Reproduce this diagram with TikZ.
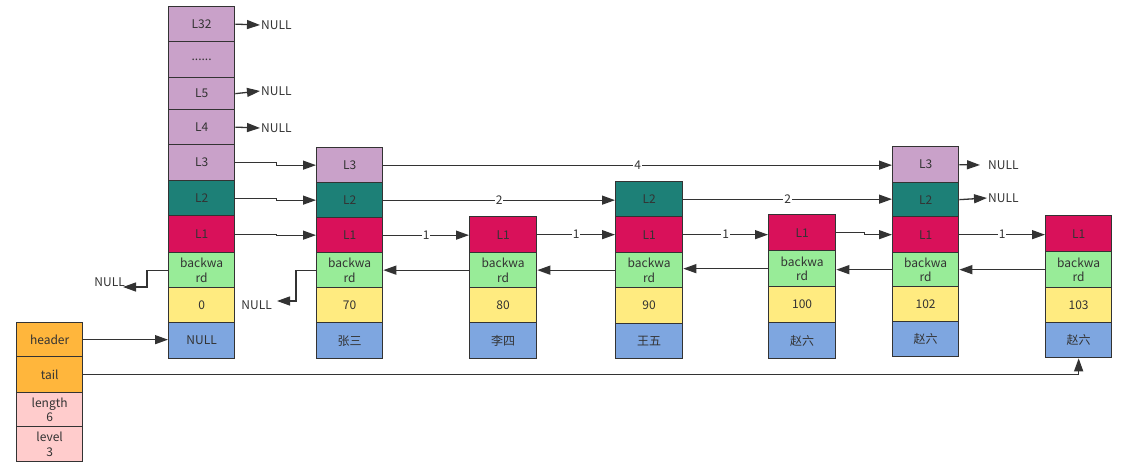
\documentclass[tikz,border=0pt]{standalone}
\usepackage{fontspec}
\setmainfont{Noto Sans CJK SC}
\usetikzlibrary{arrows.meta,calc}
\definecolor{ink}{HTML}{333333}
\definecolor{cpurple}{HTML}{C9A1C9}
\definecolor{cteal}{HTML}{1D8077}
\definecolor{cred}{HTML}{D9115A}
\definecolor{cgreen}{HTML}{98EC98}
\definecolor{cyellow}{HTML}{FFEB80}
\definecolor{cblue}{HTML}{7EA6E0}
\definecolor{corange}{HTML}{FFB63C}
\definecolor{cpink}{HTML}{FFCCCC}
\tikzset{
  cell/.style={draw=ink, line width=1.3pt, text=ink, font=\fontsize{12}{14.5}\selectfont,
    align=center, inner sep=0pt, anchor=north west},
  lthree/.style={cell, fill=cpurple},
  ltwo/.style={cell, fill=cteal},
  lone/.style={cell, fill=cred},
  bwcell/.style={cell, fill=cgreen},
  scorecell/.style={cell, fill=cyellow},
  objcell/.style={cell, fill=cblue},
  hdcell/.style={cell, fill=corange},
  infocell/.style={cell, fill=cpink},
  arr/.style={draw=ink, line width=1.3pt, -{Triangle[length=13pt,width=9pt]}},
  lbl/.style={fill=white, text=ink, font=\fontsize{12}{14}\selectfont, inner sep=1pt},
  nulltxt/.style={text=ink, font=\fontsize{12}{14}\selectfont, inner sep=1pt}
}
\begin{document}
\begin{tikzpicture}[x=1pt,y=-1pt]
\useasboundingbox (0,0) rectangle (1144,474);

% ---- column 1 (head node) ----
\node[lthree, minimum width=66pt, minimum height=35pt] (c1l32) at (168,6) {L32};
\node[lthree, minimum width=66pt, minimum height=36pt] (c1dots) at (168,41) {......};
\node[lthree, minimum width=66pt, minimum height=32pt] (c1l5) at (168,77) {L5};
\node[lthree, minimum width=66pt, minimum height=35pt] (c1l4) at (168,109) {L4};
\node[lthree, minimum width=66pt, minimum height=36pt] (c1l3) at (168,144) {L3};
\node[ltwo, minimum width=66pt, minimum height=35pt] (c1l2) at (168,180) {L2};
\node[lone, minimum width=66pt, minimum height=37pt] (c1l1) at (168,215) {L1};
\node[bwcell, minimum width=66pt, minimum height=35pt] (c1bw) at (168,252) {backwa\\rd};
\node[scorecell, minimum width=66pt, minimum height=35pt] (c1sc) at (168,287) {0};
\node[objcell, minimum width=66pt, minimum height=36pt] (c1ob) at (168,322) {NULL};

% ---- column 2 ----
\node[lthree, minimum width=66pt, minimum height=35pt] (c2l3) at (316,147) {L3};
\node[ltwo, minimum width=66pt, minimum height=35pt] (c2l2) at (316,182) {L2};
\node[lone, minimum width=66pt, minimum height=35pt] (c2l1) at (316,217) {L1};
\node[bwcell, minimum width=66pt, minimum height=35pt] (c2bw) at (316,252) {backwa\\rd};
\node[scorecell, minimum width=66pt, minimum height=35pt] (c2sc) at (316,287) {70};
\node[objcell, minimum width=66pt, minimum height=36pt] (c2ob) at (316,322) {张三};

% ---- column 3 ----
\node[lone, minimum width=67pt, minimum height=36pt] (c3l1) at (469,216) {L1};
\node[bwcell, minimum width=67pt, minimum height=35pt] (c3bw) at (469,252) {backwa\\rd};
\node[scorecell, minimum width=67pt, minimum height=35pt] (c3sc) at (469,287) {80};
\node[objcell, minimum width=67pt, minimum height=36pt] (c3ob) at (469,322) {李四};

% ---- column 4 ----
\node[ltwo, minimum width=67pt, minimum height=35pt] (c4l2) at (615,181) {L2};
\node[lone, minimum width=67pt, minimum height=36pt] (c4l1) at (615,216) {L1};
\node[bwcell, minimum width=67pt, minimum height=35pt] (c4bw) at (615,252) {backwa\\rd};
\node[scorecell, minimum width=67pt, minimum height=36pt] (c4sc) at (615,287) {90};
\node[objcell, minimum width=67pt, minimum height=35pt] (c4ob) at (615,323) {王五};

% ---- column 5 ----
\node[lone, minimum width=67pt, minimum height=36pt] (c5l1) at (768,214) {L1};
\node[bwcell, minimum width=67pt, minimum height=36pt] (c5bw) at (768,250) {backwa\\rd};
\node[scorecell, minimum width=67pt, minimum height=36pt] (c5sc) at (768,286) {100};
\node[objcell, minimum width=67pt, minimum height=36pt] (c5ob) at (768,322) {赵六};

% ---- column 6 ----
\node[lthree, minimum width=66pt, minimum height=36pt] (c6l3) at (892,146) {L3};
\node[ltwo, minimum width=66pt, minimum height=34pt] (c6l2) at (892,182) {L2};
\node[lone, minimum width=66pt, minimum height=36pt] (c6l1) at (892,216) {L1};
\node[bwcell, minimum width=66pt, minimum height=34pt] (c6bw) at (892,252) {backwa\\rd};
\node[scorecell, minimum width=66pt, minimum height=35pt] (c6sc) at (892,286) {102};
\node[objcell, minimum width=66pt, minimum height=35pt] (c6ob) at (892,321) {赵六};

% ---- column 7 ----
\node[lone, minimum width=66pt, minimum height=36pt] (c7l1) at (1045,215) {L1};
\node[bwcell, minimum width=66pt, minimum height=36pt] (c7bw) at (1045,251) {backwa\\rd};
\node[scorecell, minimum width=66pt, minimum height=35pt] (c7sc) at (1045,287) {103};
\node[objcell, minimum width=66pt, minimum height=35pt] (c7ob) at (1045,322) {赵六};

% ---- list header ----
\node[hdcell, minimum width=66pt, minimum height=34pt] (hd) at (16,322) {header};
\node[hdcell, minimum width=66pt, minimum height=36pt] (tl) at (16,356) {tail};
\node[infocell, minimum width=66pt, minimum height=34pt] (len) at (16,392) {length\\6};
\node[infocell, minimum width=66pt, minimum height=35pt] (lvl) at (16,426) {level\\3};

% ---- NULL labels ----
\node[nulltxt, anchor=west] (n32) at (260,25) {NULL};
\node[nulltxt, anchor=west] (n5) at (260,91) {NULL};
\node[nulltxt, anchor=west] (n4) at (260,128) {NULL};
\node[nulltxt, anchor=west, inner xsep=8pt] (n63) at (980,165) {NULL};
\node[nulltxt, anchor=west] (n62) at (987,198) {NULL};
\node[nulltxt, anchor=east] (nb1) at (126,282) {NULL};
\coordinate (nb1end) at (123,287);
\node[nulltxt, anchor=east] (nb2) at (273,305) {NULL};
\coordinate (nb2end) at (277,301);

% ---- forward pointers ----
\draw[arr] (c1l32.east) -- (n32.west);
\draw[arr] (c1l5.east) -- (n5.west);
\draw[arr] (c1l4.east) -- (n4.west);
\draw[arr] (c1l3.east) -- ++(41,0) |- (c2l3.west);
\draw[arr] (c1l2.east) -- ++(41,0) |- (c2l2.west);
\draw[arr] (c1l1.east) -- ++(41,0) |- (c2l1.west);

\draw[arr] (c2l3.east) -- node[lbl] {4} (c2l3.east -| c6l3.west);
\draw[arr] (c2l2.east) -- node[lbl] {2} (c2l2.east -| c4l2.west);
\draw[arr] (c4l2.east) -- node[lbl] {2} (c4l2.east -| c6l2.west);
\draw[arr] (c2l1.east) -- node[lbl] {1} (c2l1.east -| c3l1.west);
\draw[arr] (c3l1.east) -- node[lbl] {1} (c3l1.east -| c4l1.west);
\draw[arr] (c4l1.east) -- node[lbl] {1} (c4l1.east -| c5l1.west);
\draw[arr] (c5l1.east) -- ++(28,0) |- (c6l1.west);
\draw[arr] (c6l1.east) -- node[lbl] {1} (c6l1.east -| c7l1.west);
\draw[arr] (c6l3.east) -- (n63.west);
\draw[arr] (c6l2.east) -- (n62.west);

% ---- backward pointers ----
\draw[arr] (c1bw.west) -- ++(-21,0) |- (nb1end);
\draw[arr] (c2bw.west) -- ++(-20,0) |- (nb2end);
\draw[arr] (c3bw.west) -- (c3bw.west -| c2bw.east);
\draw[arr] (c4bw.west) -- (c4bw.west -| c3bw.east);
\draw[arr] (c5bw.west) -- (c5bw.west -| c4bw.east);
\draw[arr] (c6bw.west) -- (c6bw.west -| c5bw.east);
\draw[arr] (c7bw.west) -- (c7bw.west -| c6bw.east);

% ---- header / tail ----
\draw[arr] (hd.east) -- (hd.east -| c1ob.west);
\draw[arr] (tl.east) -| (c7ob.south);
\end{tikzpicture}
\end{document}
